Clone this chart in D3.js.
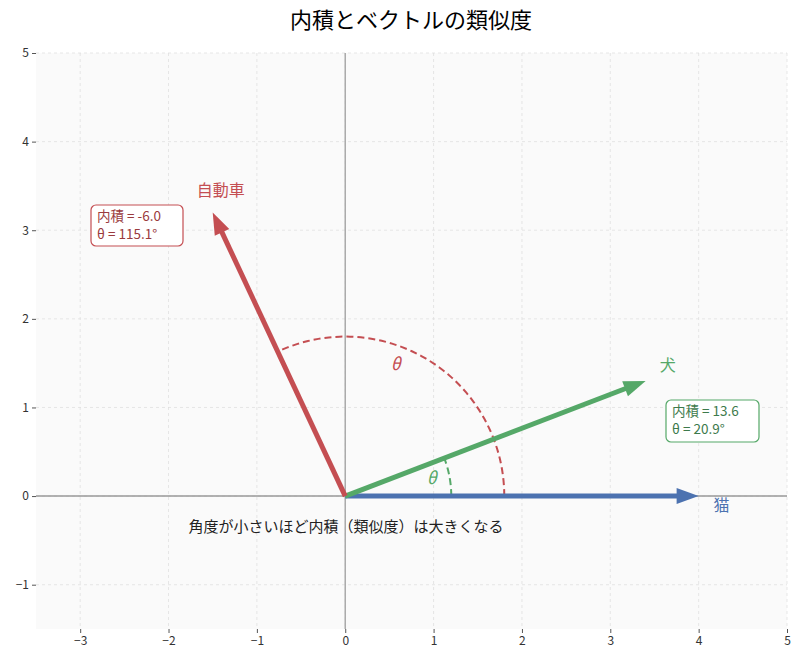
<!DOCTYPE html><html><head><meta charset="utf-8"><script src="https://cdn.jsdelivr.net/npm/d3@7"></script>
<style>body{margin:0;background:#fff}text{font-family:"Noto Sans CJK JP","Noto Sans",sans-serif}</style></head><body>
<svg id="c" width="800" height="659"></svg>
<script>
const names=["猫","犬","自動車"];
const vx=[4,3.4,-1.5], vy=[0,1.3,3.2];
const colors=["#4c72b0","#55a868","#c44e52"];
const textColors=["#4c72b0","#3d7a4c","#9a3a3d"];
const xTicks=[-3,-2,-1,0,1,2,3,4,5], yTicks=[-1,0,1,2,3,4,5];
const svg=d3.select("#c");
const x=d3.scaleLinear().domain([-3.5,5]).range([36,787]);
const y=d3.scaleLinear().domain([-1.5,5]).range([629,53]);
svg.append("rect").attr("x",36).attr("y",53).attr("width",751).attr("height",576).attr("fill","#fafafa");
svg.append("text").attr("x",411).attr("y",28).attr("text-anchor","middle").attr("font-size",22).text("内積とベクトルの類似度");
const g=svg.append("g");
xTicks.forEach(t=>g.append("line").attr("x1",x(t)).attr("x2",x(t)).attr("y1",53).attr("y2",629).attr("stroke","#ddd").attr("stroke-dasharray","3,3").attr("stroke-width",0.7));
yTicks.forEach(t=>g.append("line").attr("y1",y(t)).attr("y2",y(t)).attr("x1",36).attr("x2",787).attr("stroke","#ddd").attr("stroke-dasharray","3,3").attr("stroke-width",0.7));
g.append("line").attr("x1",36).attr("x2",787).attr("y1",y(0)).attr("y2",y(0)).attr("stroke","#999").attr("stroke-width",1.5);
g.append("line").attr("y1",53).attr("y2",629).attr("x1",x(0)).attr("x2",x(0)).attr("stroke","#aaa").attr("stroke-width",1.5);
const fmt=t=>t<0?"−"+(-t):""+t;
svg.append("g").attr("transform","translate(0,629)").call(d3.axisBottom(x).tickValues(xTicks).tickFormat(fmt).tickSize(4)).call(a=>{a.select(".domain").remove();a.selectAll("line").attr("stroke","#555");a.selectAll("text").attr("font-size",12).attr("fill","#333")});
svg.append("g").attr("transform","translate(36,0)").call(d3.axisLeft(y).tickValues(yTicks).tickFormat(fmt).tickSize(4)).call(a=>{a.select(".domain").remove();a.selectAll("line").attr("stroke","#555");a.selectAll("text").attr("font-size",12).attr("fill","#333")});
function arc(r,a1,col){const pts=d3.range(0,61).map(i=>{const a=a1*i/60*Math.PI/180;return [x(r*Math.cos(a)),y(r*Math.sin(a))]});
 g.append("path").attr("d",d3.line()(pts)).attr("fill","none").attr("stroke",col).attr("stroke-width",2).attr("stroke-dasharray","7,4");}
arc(1.8,115.1,colors[2]);arc(1.2,20.9,colors[1]);
svg.append("text").attr("x",x(0.57)).attr("y",y(1.47)).attr("text-anchor","middle").attr("dominant-baseline","middle").attr("font-size",17).attr("font-style","italic").attr("fill",colors[2]).attr("font-family","DejaVu Sans").text("θ");
svg.append("text").attr("x",x(0.98)).attr("y",y(0.19)).attr("text-anchor","middle").attr("dominant-baseline","middle").attr("font-size",17).attr("font-style","italic").attr("fill",colors[1]).attr("font-family","DejaVu Sans").text("θ");
vx.forEach((v,i)=>{const x0=x(0),y0=y(0),x1=x(v),y1=y(vy[i]);const L=Math.hypot(x1-x0,y1-y0),ux=(x1-x0)/L,uy=(y1-y0)/L;
 const hl=22,hw=8,bx=x1-ux*hl,by=y1-uy*hl;
 g.append("line").attr("x1",x0).attr("y1",y0).attr("x2",bx+ux*2).attr("y2",by+uy*2).attr("stroke",colors[i]).attr("stroke-width",5);
 g.append("path").attr("d",`M${x1},${y1}L${bx-uy*hw},${by+ux*hw}L${bx+uy*hw},${by-ux*hw}Z`).attr("fill",colors[i]);});
const lp=[[4.26,-0.12],[3.65,1.46],[-1.41,3.43]];
names.forEach((n,i)=>svg.append("text").attr("x",x(lp[i][0])).attr("y",y(lp[i][1])).attr("text-anchor","middle").attr("dominant-baseline","middle").attr("font-size",16).attr("fill",colors[i]).text(n));
function box(x0,y0,w,h,col,tc,lines){svg.append("rect").attr("x",x0).attr("y",y0).attr("width",w).attr("height",h).attr("rx",5).attr("fill","#fff").attr("stroke",col).attr("stroke-width",1.2);
 lines.forEach((l,k)=>svg.append("text").attr("x",x0+6).attr("y",y0+16+k*18).attr("font-size",13.5).attr("fill",tc).text(l));}
box(91,205,92,41,colors[2],textColors[2],["内積 = -6.0","θ  = 115.1°"]);
box(666,400,93,42,colors[1],textColors[1],["内積 = 13.6","θ  = 20.9°"]);
svg.append("text").attr("x",346).attr("y",532).attr("text-anchor","middle").attr("font-size",15).attr("fill","#222").text("角度が小さいほど内積（類似度）は大きくなる");
</script></body></html>
